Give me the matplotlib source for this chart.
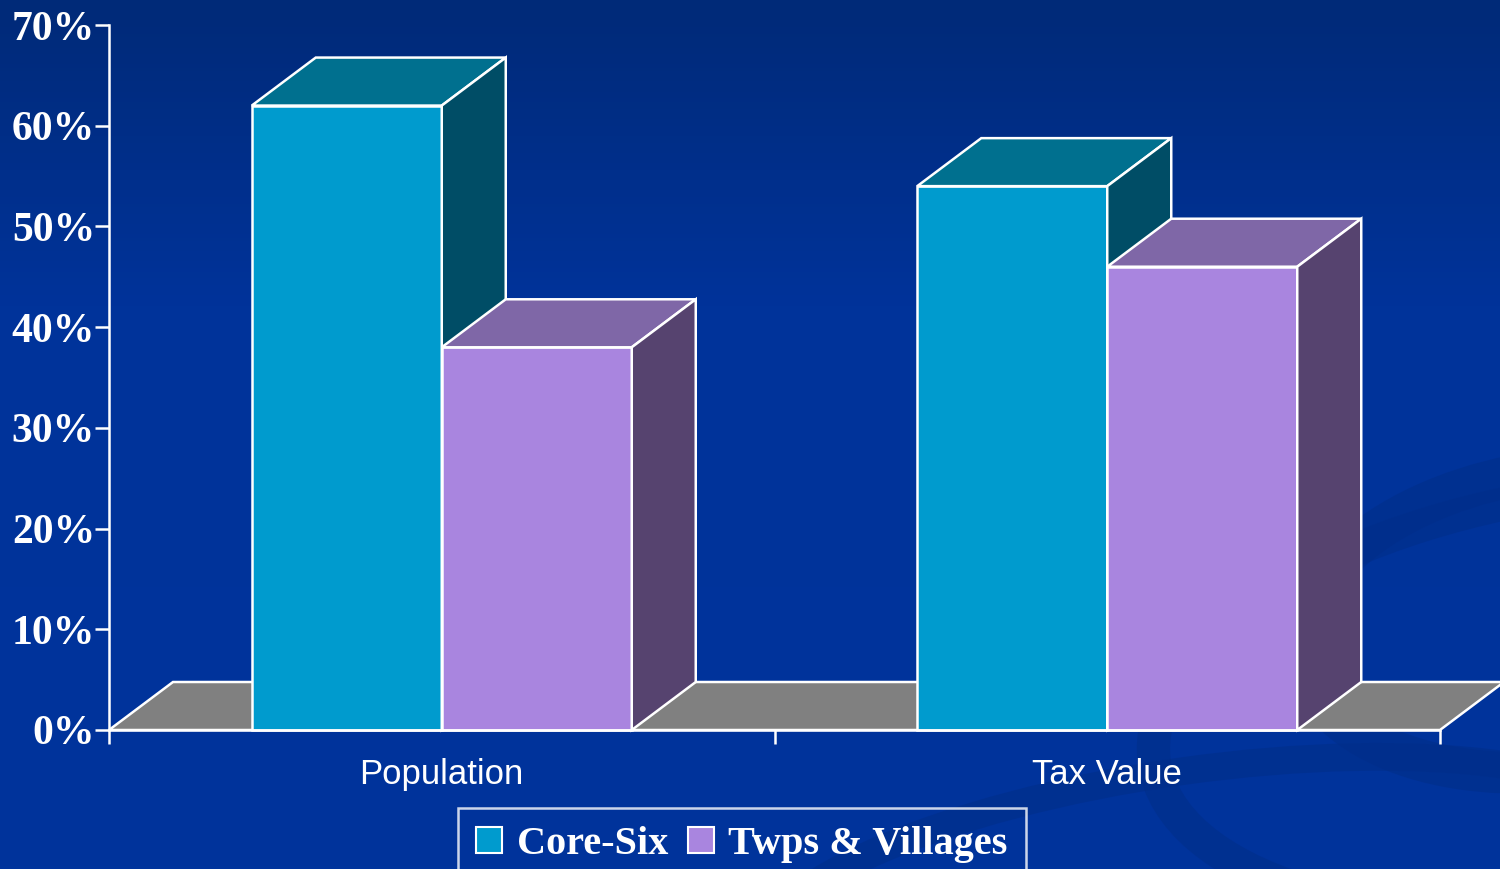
import numpy as np
import matplotlib
matplotlib.use("Agg")
import matplotlib.pyplot as plt
from matplotlib.patches import Polygon, Patch, Ellipse

# data
categories = ["Population", "Tax Value"]
series = ["Core-Six", "Twps & Villages"]
core_six = [62, 54]
twps_villages = [38, 46]
y_ticks = [0, 10, 20, 30, 40, 50, 60, 70]
y_labels = ["0%", "10%", "20%", "30%", "40%", "50%", "60%", "70%"]

# colours: front, top, side
core_cols = ("#009BCE", "#00708F", "#004D66")
twps_cols = ("#A985DF", "#7F67A7", "#56436F")
floor_col = "#808080"

W, H = 1500, 869
fig = plt.figure(figsize=(15, 8.69), dpi=100)

# background gradient + faint swirl
bg = fig.add_axes([0, 0, 1, 1], zorder=0)
grad = np.linspace(0, 1, 256).reshape(-1, 1)
cmap = matplotlib.colors.LinearSegmentedColormap.from_list(
    "bg", [(0, "#002A78"), (0.35, "#00339A"), (1, "#00349C")])
bg.imshow(grad, aspect="auto", cmap=cmap, extent=[0, W, H, 0])
for (cx, cy, ew, eh, lw) in [(1560, 620, 520, 300, 30), (1600, 700, 900, 420, 24),
                             (1200, 900, 900, 260, 20)]:
    bg.add_patch(Ellipse((cx, cy), ew, eh, angle=-8, fill=False,
                         edgecolor="#002E8A", lw=lw, alpha=0.6))
bg.set_xlim(0, W)
bg.set_ylim(H, 0)
bg.axis("off")

ax = fig.add_axes([109 / W, (H - 730) / H, (1440 - 109) / W, (730 - 25) / H], zorder=1)
ax.set_facecolor("none")
ax.set_xlim(0, 2)
ax.set_ylim(0, 70)

# depth offsets in data units
dx = 64 / (1440 - 109) * 2
dy = 48 / (730 - 25) * 70
bw = 190 / (1440 - 109) * 2

def poly(pts, fc, z):
    ax.add_patch(Polygon(pts, closed=True, facecolor=fc, edgecolor="white",
                         lw=1.8, zorder=z, clip_on=False, joinstyle="miter"))

# floor
poly([(0, 0), (2, 0), (2 + dx, dy), (dx, dy)], floor_col, 2)

def bar3d(x0, h, cols, z):
    x1 = x0 + bw
    poly([(x0, 0), (x1, 0), (x1, h), (x0, h)], cols[0], z)
    poly([(x0, h), (x1, h), (x1 + dx, h + dy), (x0 + dx, h + dy)], cols[1], z)
    poly([(x1, 0), (x1 + dx, dy), (x1 + dx, h + dy), (x1, h)], cols[2], z)

for i in range(len(categories)):
    c = i + 0.5
    bar3d(c - bw, core_six[i], core_cols, 3 + 2 * i)
    bar3d(c, twps_villages[i], twps_cols, 4 + 2 * i)

# axes styling
for s in ["top", "right"]:
    ax.spines[s].set_visible(False)
for s in ["left", "bottom"]:
    ax.spines[s].set_color("white")
    ax.spines[s].set_linewidth(1.8)
    ax.spines[s].set_zorder(10)

ax.set_yticks(y_ticks)
ax.set_yticklabels(y_labels, family="Liberation Serif", fontweight="bold",
                   fontsize=30, color="white")
ax.tick_params(axis="y", length=10, width=1.8, color="white", pad=0)

ax.set_xticks([0, 1, 2])
ax.set_xticklabels([])
ax.tick_params(axis="x", which="major", length=10, width=1.8, color="white", direction="out")
ax.set_xticks([0.5, 1.5], minor=True)
ax.set_xticklabels(categories, minor=True, family="Liberation Sans",
                   fontsize=25, color="white")
ax.tick_params(axis="x", which="minor", length=0, pad=20)

handles = [Patch(facecolor=core_cols[0], edgecolor="white", lw=1.5),
           Patch(facecolor=twps_cols[0], edgecolor="white", lw=1.5)]
leg = fig.legend(handles, series, loc="upper center", bbox_to_anchor=(742 / W, 1 - 808 / H),
                 ncol=2, frameon=True, fancybox=False, handlelength=0.65, handleheight=0.65,
                 handletextpad=0.35, columnspacing=0.5, borderpad=0.45, borderaxespad=0,
                 prop={"family": "Liberation Serif", "weight": "bold", "size": 29})
leg.get_frame().set_facecolor("none")
leg.get_frame().set_edgecolor("white")
leg.get_frame().set_linewidth(1.8)
for t in leg.get_texts():
    t.set_color("white")

fig.savefig("out.png", dpi=100)
